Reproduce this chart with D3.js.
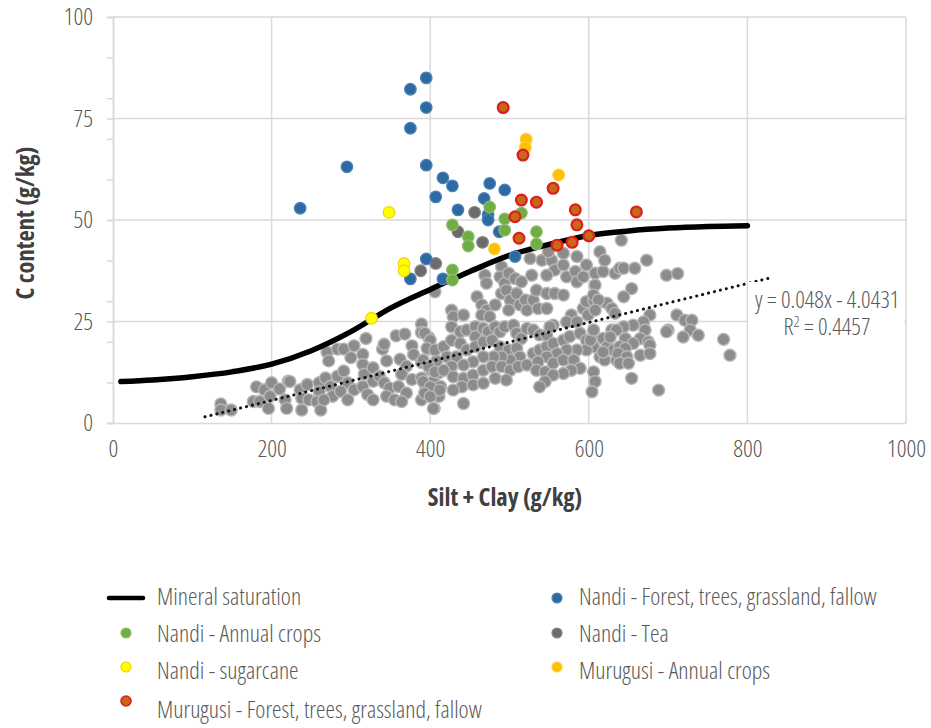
<!DOCTYPE html>
<html>
<head>
<meta charset="utf-8">
<script src="https://cdn.jsdelivr.net/npm/d3@7"></script>
<style>
  body { margin: 0; background: #fff; }
  text { font-family: "Open Sans", sans-serif; font-stretch: 75%; }
</style>
</head>
<body>
<svg id="chart" width="931" height="728"></svg>
<script>
// Mineral saturation curve
var satX = [10, 50, 100, 150, 200, 250, 300, 350, 400, 450, 500, 550, 600, 650, 700, 750, 800];
var satY = [10.2, 10.6, 11.4, 12.6, 14.5, 17.8, 22.5, 28.3, 32.9, 37.3, 41.3, 44.0, 46.2, 47.3, 48.0, 48.4, 48.6];

// Linear trendline printed on the chart
var trendSlope = 0.048;
var trendIntercept = -4.0431;
var trendR2 = 0.4457;
var trendRange = [116, 826];

// Nandi - Forest, trees, grassland, fallow
var nandiForest = [[395,85.0],[375,82.2],[395,77.7],[375,72.6],[295,63.1],[395,63.5],[416,60.4],[428,58.4],
  [407,55.7],[475,59.0],[494,57.4],[468,55.3],[435,52.5],[236,52.9],[473,51.3],[473,50.0],[487,47.1],
  [395,40.4],[375,35.5],[416,35.5],[507,41.0]];
// Nandi - Annual crops
var nandiCrops = [[475,53.2],[428,48.8],[448,45.9],[448,43.6],[428,37.7],[428,35.2],[494,50.3],[494,47.5],
  [515,51.7],[534,47.1],[534,44.1]];
// Nandi - Tea
var nandiTea = [[456,51.9],[435,47.1],[466,44.5],[407,39.3],[388,37.5]];
// Nandi - sugarcane
var nandiSugar = [[348,51.9],[367,39.3],[367,37.5],[326,25.8]];
// Murugusi - Annual crops
var muruCrops = [[521,69.9],[520,67.9],[562,61.1],[481,42.9]];
// Murugusi - Forest, trees, grassland, fallow
var muruForest = [[492,77.7],[517,66.0],[555,57.8],[515,54.9],[534,54.4],[507,50.8],[583,52.5],[585,48.8],
  [512,45.5],[600,46.1],[560,43.8],[579,44.5],[660,52.0]];
// unlabelled grey samples
var otherSamples = [
  [136,4.7],[136,3.2],[149,3.2],[177,5.3],[185,5.3],[181,8.9],[191,8.2],[200,9.9],[198,6.6],[196,3.6],
  [210,8.4],[221,10.3],[217,5.7],[219,3.6],[223,10.2],[236,8.2],[238,6.1],[245,9.5],[247,5.7],[238,3.2],
  [260,9.9],[260,7.8],[257,5.3],[262,3.2],[270,17.4],[272,15.3],[283,18.2],[268,11.1],[274,9.0],[277,6.6],
  [266,5.7],[291,18.2],[304,19.0],[300,16.1],[315,16.9],[319,20.8],[283,11.5],[291,12.8],[296,9.9],[304,8.2],
  [287,7.8],[296,5.7],[315,14.4],[317,12.0],[328,10.3],[315,9.0],[321,7.0],[328,5.7],[328,13.6],[340,18.2],
  [342,19.4],[345,15.3],[336,11.5],[342,9.9],[349,8.6],[345,6.6],[355,5.7],[357,21.5],[368,21.9],[362,15.7],
  [370,14.0],[364,12.0],[377,10.7],[360,9.0],[370,7.4],[364,5.3],[377,19.0],[379,16.9],[389,24.4],[389,22.3],
  [398,21.1],[398,18.2],[389,14.9],[400,13.2],[389,11.1],[404,10.3],[394,8.2],[389,5.7],[405,3.6],[408,15.3],
  [411,12.4],[413,9.0],[411,6.6],
  [406,32.3],[469,36.4],[471,34.4],[490,38.5],[488,36.0],[494,34.4],[499,36.9],[507,35.6],[515,34.8],[528,36.4],
  [526,40.5],[541,40.1],[553,40.1],[557,37.7],[547,36.4],[568,38.9],[572,36.0],[583,37.3],[585,34.8],[593,36.0],
  [597,38.9],[608,36.9],[618,37.3],[633,36.9],[614,42.2],[568,41.8],[549,42.2],[585,41.0],
  [459,31.1],[465,29.1],[471,27.8],[465,26.6],[475,26.2],[482,29.1],[490,31.9],[496,32.7],[501,30.3],[499,27.8],
  [509,31.9],[513,29.1],[520,30.3],[522,27.8],[530,30.3],[534,32.7],[536,28.2],[547,31.9],[547,28.2],[557,31.9],
  [568,31.5],[578,26.6],[593,28.2],[597,29.9],[606,30.3],[614,29.9],[623,29.5],[629,28.2],[633,27.0],[599,26.6],
  [572,24.9],[555,24.1],[585,24.9],
  [427,27.8],[429,26.2],[442,26.6],[427,23.7],[438,22.5],[446,22.9],[457,23.7],[457,21.3],[467,23.3],[473,22.5],
  [482,23.7],[488,22.5],[494,23.7],[505,24.1],[509,22.1],[515,20.8],[522,23.3],[530,22.9],[538,21.7],[547,21.7],
  [551,23.7],[393,22.1],[400,20.4],[396,18.4],[406,18.0],[391,15.5],[398,13.9],[406,12.6],[391,10.2],[400,8.9],
  [393,7.3],[404,3.6],
  [417,18.8],[427,20.4],[438,19.6],[421,16.3],[433,16.3],[446,18.0],[457,18.8],[467,20.0],[478,20.4],[488,18.8],
  [499,18.0],[509,18.4],[513,16.3],[501,15.5],[490,16.3],[480,16.3],[467,16.3],[454,15.1],[442,14.3],[427,13.9],
  [417,13.0],[429,11.4],[442,11.0],[454,11.8],[467,13.0],[478,13.9],[490,13.9],[501,13.0],[511,13.9],[522,14.3],
  [530,17.1],[538,18.0],[547,18.8],[555,19.6],[568,20.4],[576,21.3],[589,22.1],[597,20.4],[606,21.3],[618,20.8],
  [629,22.9],[623,18.8],[614,16.3],[620,15.5],[635,15.5],[631,18.0],[606,18.8],[597,18.0],[585,18.0],[572,18.0],
  [560,17.1],[547,16.3],[536,15.1],[534,13.0],[545,12.6],[555,14.7],[568,15.5],[581,15.5],[589,13.5],[578,13.0],
  [568,12.2],[555,11.8],[545,10.2],[538,8.9],[606,12.6],[608,10.2],[604,7.7],[440,8.9],[454,9.4],[467,9.8],
  [429,8.1],[412,8.1],[442,4.8],[482,11.0],[496,10.6],[400,6.5],
  [641,45.0],[620,40.1],[639,38.1],[644,38.1],[658,38.1],[673,40.1],[698,36.4],[712,36.8],[608,34.0],[654,33.1],
  [644,31.1],[606,31.5],[612,30.3],[608,27.8],[677,26.6],[711,26.6],[721,25.3],[730,25.3],[669,24.9],[656,24.1],
  [644,23.7],[635,22.9],[671,22.9],[700,22.9],[728,22.9],[738,21.6],[719,21.2],[698,22.5],[627,21.2],[646,20.8],
  [665,20.8],[675,20.0],[656,19.6],[639,18.8],[677,19.2],[646,18.4],[618,17.5],[637,17.1],[648,16.3],[665,16.7],
  [677,17.1],[770,20.6],[778,16.7],[639,14.7],[650,14.7],[654,11.0],[688,8.1],[602,20.4],[606,22.9]
];

var xTicks = [0, 200, 400, 600, 800, 1000];
var yTicks = [0, 25, 50, 75, 100];
var yMinorTicks = [0, 10, 20, 30, 40, 50, 60, 70, 80, 90, 100];

var svg = d3.select("#chart");
var x = d3.scaleLinear().domain([0, 1000]).range([113, 906]);
var y = d3.scaleLinear().domain([0, 100]).range([423, 17]);

var grid = "#d9d9d9";
var textCol = "#595959";
var fs = "24px";

// Gridlines
svg.append("g")
  .selectAll("line.h").data(yTicks.slice(1)).enter().append("line")
  .attr("x1", x(0)).attr("x2", x(1000))
  .attr("y1", d => y(d)).attr("y2", d => y(d))
  .attr("stroke", grid).attr("stroke-width", 1.5);
svg.append("g")
  .selectAll("line.v").data(xTicks.slice(1)).enter().append("line")
  .attr("x1", d => x(d)).attr("x2", d => x(d))
  .attr("y1", y(0)).attr("y2", y(100))
  .attr("stroke", grid).attr("stroke-width", 1.5);

// Y axis: minor ticks every 10, labels every 25
var yMinor = svg.append("g").attr("transform", "translate(" + x(0) + ",0)")
  .call(d3.axisLeft(y).tickValues(yMinorTicks).tickSize(6).tickFormat(""));
var yMajor = svg.append("g").attr("transform", "translate(" + x(0) + ",0)")
  .call(d3.axisLeft(y).tickValues(yTicks).tickSize(6).tickPadding(14));
[yMinor, yMajor].forEach(function(g) {
  g.select(".domain").attr("stroke", grid).attr("stroke-width", 1.5);
  g.selectAll(".tick line").attr("stroke", grid).attr("stroke-width", 1.5);
});
yMajor.selectAll("text").attr("fill", textCol).style("font-size", fs).style("font-weight", 300);

// X axis
var xAxis = svg.append("g").attr("transform", "translate(0," + y(0) + ")")
  .call(d3.axisBottom(x).tickValues(xTicks).tickSize(0).tickPadding(17).tickFormat(d3.format("d")));
xAxis.select(".domain").attr("stroke", grid).attr("stroke-width", 1.5);
xAxis.selectAll("text").attr("fill", textCol).style("font-size", fs).style("font-weight", 300);

// Axis titles
svg.append("text")
  .attr("x", 505).attr("y", 506)
  .attr("text-anchor", "middle")
  .attr("fill", "#404040")
  .style("font-size", "24.5px").style("font-weight", 700)
  .text("Silt + Clay (g/kg)");
svg.append("text")
  .attr("transform", "translate(34,223) rotate(-90)")
  .attr("text-anchor", "middle")
  .attr("fill", "#404040")
  .style("font-size", "24.5px").style("font-weight", 700)
  .text("C content (g/kg)");

var styles = {
  other:  { fill: "#8c8c8c", stroke: "#b7b7b7", sw: 1.4 },
  forest: { fill: "#2d6aa3", stroke: "#4f83b6", sw: 1.2 },
  crops:  { fill: "#70ad47", stroke: "#8cbf69", sw: 1.2 },
  tea:    { fill: "#6b6b6b", stroke: "#858585", sw: 1.2 },
  sugar:  { fill: "#ffff00", stroke: "#f2d400", sw: 1.2 },
  mcrops: { fill: "#ffc000", stroke: "#ffcc33", sw: 1.2 },
  mforest:{ fill: "#c8661c", stroke: "#dc1f1a", sw: 2.2 }
};

function drawPoints(data, st, r) {
  svg.append("g").selectAll("circle").data(data).enter().append("circle")
    .attr("cx", d => x(d[0])).attr("cy", d => y(d[1]))
    .attr("r", r)
    .attr("fill", st.fill).attr("stroke", st.stroke).attr("stroke-width", st.sw);
}

drawPoints(otherSamples, styles.other, 6);

// Trendline (dotted)
svg.append("line")
  .attr("x1", x(trendRange[0])).attr("y1", y(trendSlope * trendRange[0] + trendIntercept))
  .attr("x2", x(trendRange[1])).attr("y2", y(trendSlope * trendRange[1] + trendIntercept))
  .attr("stroke", "#111").attr("stroke-width", 3)
  .attr("stroke-linecap", "round").attr("stroke-dasharray", "0.1,6");

// Mineral saturation
var satLine = d3.line().x(d => x(d[0])).y(d => y(d[1])).curve(d3.curveMonotoneX);
svg.append("path")
  .datum(d3.zip(satX, satY))
  .attr("d", satLine)
  .attr("fill", "none").attr("stroke", "#000").attr("stroke-width", 5.5)
  .attr("stroke-linecap", "round");

drawPoints(nandiTea, styles.tea, 5.8);
drawPoints(nandiForest, styles.forest, 5.8);
drawPoints(nandiCrops, styles.crops, 5.8);
drawPoints(nandiSugar, styles.sugar, 5.8);
drawPoints(muruCrops, styles.mcrops, 5.8);
drawPoints(muruForest, styles.mforest, 5.4);

// Equation label (one text block, two lines)
svg.append("rect").attr("x", 748).attr("y", 282).attr("width", 156).attr("height", 61).attr("fill", "#fff");
var eq = svg.append("text")
  .attr("text-anchor", "middle")
  .attr("fill", textCol).style("font-size", "23.5px").style("font-weight", 300);
eq.append("tspan").attr("x", 827).attr("y", 308)
  .text("y = " + trendSlope + "x - " + Math.abs(trendIntercept));
var l2 = eq.append("tspan").attr("x", 827).attr("y", 335);
l2.append("tspan").text("R");
l2.append("tspan").attr("dy", -8).style("font-size", "15px").text("2");
l2.append("tspan").attr("dy", 8).text(" = " + trendR2);

// Legend
var legendItems = [
  { name: "Mineral saturation", key: "line", col: 0, row: 0 },
  { name: "Nandi - Annual crops", key: "crops", col: 0, row: 1 },
  { name: "Nandi - sugarcane", key: "sugar", col: 0, row: 2 },
  { name: "Murugusi - Forest, trees, grassland, fallow", key: "mforest", col: 0, row: 3 },
  { name: "Nandi - Forest, trees, grassland, fallow", key: "forest", col: 1, row: 0 },
  { name: "Nandi - Tea", key: "tea", col: 1, row: 1 },
  { name: "Murugusi - Annual crops", key: "mcrops", col: 1, row: 2 }
];
var rowText = [597, 634, 671, 710];
var rowMark = [598, 633, 667, 701];
var colMark = [126, 557];
var colText = [157, 579];

var leg = svg.append("g").selectAll("g").data(legendItems).enter().append("g");
leg.each(function(d) {
  var g = d3.select(this);
  if (d.key === "line") {
    g.append("line")
      .attr("x1", colMark[d.col] - 17).attr("x2", colMark[d.col] + 17)
      .attr("y1", rowMark[d.row]).attr("y2", rowMark[d.row])
      .attr("stroke", "#000").attr("stroke-width", 4.5).attr("stroke-linecap", "round");
  } else {
    var st = styles[d.key];
    g.append("circle")
      .attr("cx", colMark[d.col]).attr("cy", rowMark[d.row]).attr("r", 5)
      .attr("fill", st.fill).attr("stroke", st.stroke).attr("stroke-width", Math.min(st.sw, 1.6));
  }
  g.append("text")
    .attr("x", colText[d.col]).attr("y", rowText[d.row]).attr("dy", "0.35em")
    .attr("fill", textCol).style("font-size", fs).style("font-weight", 300)
    .text(d.name);
});
</script>
</body>
</html>
